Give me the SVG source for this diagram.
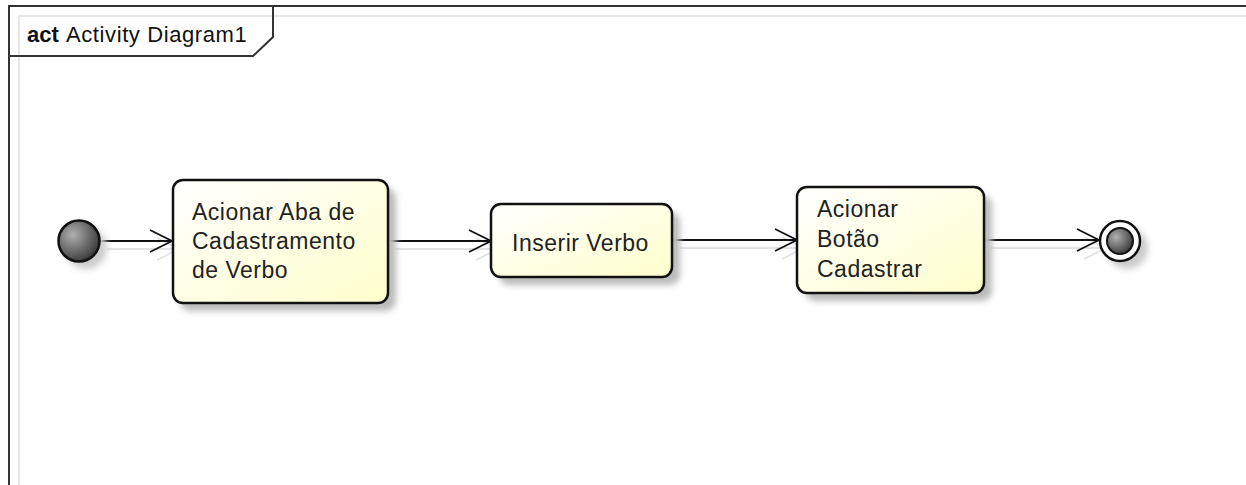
<svg xmlns="http://www.w3.org/2000/svg" width="1246" height="485" viewBox="0 0 1246 485">
<defs>
<style>
.frame{fill:none;stroke:#333;stroke-width:2}
.fshadow{fill:none;stroke:#e6e6e6;stroke-width:2}
.box{fill:url(#boxg);stroke:#111;stroke-width:2.5}
.shadow{fill:#bbb;filter:url(#blur)}
.lbl{font-family:"Liberation Sans",Arial,sans-serif;font-size:23px;letter-spacing:0.5px;fill:#222}
.title{font-family:"Liberation Sans",Arial,sans-serif;font-size:22px;fill:#111}
.conn{fill:none;stroke:#111;stroke-width:1.8}
.cshadow{fill:none;stroke:#e2e2e2;stroke-width:1.8}
</style>
<linearGradient id="boxg" x1="0" y1="0" x2="1" y2="1">
<stop offset="0" stop-color="#ffffff"/>
<stop offset="1" stop-color="#ffffcc"/>
</linearGradient>
<radialGradient id="ball" cx="0.35" cy="0.35" r="0.75">
<stop offset="0" stop-color="#b0b0b0"/>
<stop offset="1" stop-color="#303030"/>
</radialGradient>
<filter id="blur" x="-20%" y="-20%" width="140%" height="140%">
<feGaussianBlur stdDeviation="3"/>
</filter>
</defs>
<rect width="1246" height="485" fill="#fff"/>
<g id="frame">
<path class="fshadow" d="M19,485 V16 H1246"/>
<path class="frame" d="M9,485 V6 H1246"/>
<path class="frame" d="M9,56 H253 L273,37 V6"/>
<text class="title" x="27" y="42"><tspan font-weight="bold">act</tspan><tspan x="66" letter-spacing="0.6">Activity Diagram1</tspan></text>
</g>
<g id="connectors">
<g transform="translate(7,8)">
<path class="cshadow" d="M100,241 H172 M150,230 L172,241 L150,252"/>
<path class="cshadow" d="M388,241 H491 M469,230 L491,241 L469,252"/>
<path class="cshadow" d="M673,240 H797 M775,229 L797,240 L775,251"/>
<path class="cshadow" d="M984,240 H1099 M1077,229 L1099,240 L1077,251"/>
</g>
<path class="conn" d="M100,241 H172 M150,230 L172,241 L150,252"/>
<path class="conn" d="M388,241 H491 M469,230 L491,241 L469,252"/>
<path class="conn" d="M673,240 H797 M775,229 L797,240 L775,251"/>
<path class="conn" d="M984,240 H1099 M1077,229 L1099,240 L1077,251"/>
</g>
<g id="start">
<circle cx="86" cy="248" r="21" fill="#ccc" filter="url(#blur)"/>
<circle cx="79" cy="241" r="20.5" fill="url(#ball)" stroke="#111" stroke-width="2.5"/>
</g>
<g id="n1">
<rect class="shadow" x="180" y="188" width="216" height="123" rx="10"/>
<rect class="box" x="173" y="180" width="215" height="123" rx="10"/>
<text class="lbl" x="192" y="220">Acionar Aba de</text>
<text class="lbl" x="192" y="249">Cadastramento</text>
<text class="lbl" x="192" y="278">de Verbo</text>
</g>
<g id="n2">
<rect class="shadow" x="499" y="212" width="181" height="73" rx="10"/>
<rect class="box" x="491" y="204" width="181" height="73" rx="10"/>
<text class="lbl" x="512" y="251">Inserir Verbo</text>
</g>
<g id="n3">
<rect class="shadow" x="805" y="195" width="187" height="106" rx="10"/>
<rect class="box" x="797" y="187" width="187" height="106" rx="10"/>
<text class="lbl" x="817" y="217">Acionar</text>
<text class="lbl" x="817" y="247">Botão</text>
<text class="lbl" x="817" y="277">Cadastrar</text>
</g>
<g id="end">
<circle cx="1127" cy="248" r="21" fill="#ccc" filter="url(#blur)"/>
<circle cx="1120" cy="241" r="20" fill="#fff" stroke="#111" stroke-width="2.5"/>
<circle cx="1120" cy="241" r="13" fill="url(#ball)" stroke="#111" stroke-width="2"/>
</g>
</svg>
